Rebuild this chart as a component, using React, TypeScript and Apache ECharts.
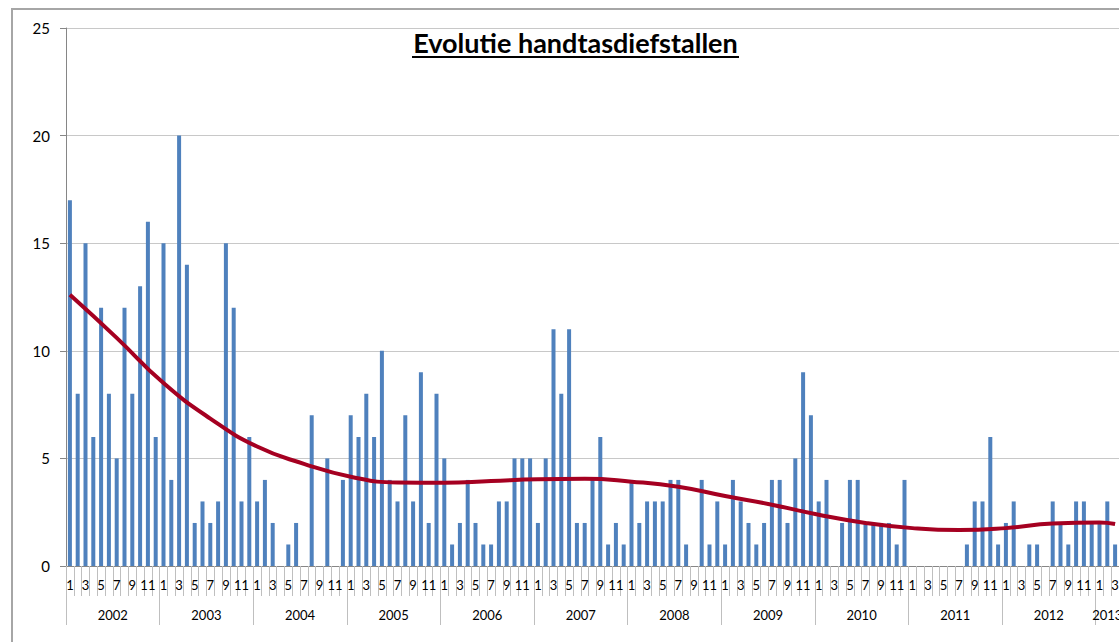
import React, { useEffect, useRef } from "react";
import * as echarts from "echarts";

const years = [2002, 2003, 2004, 2005, 2006, 2007, 2008, 2009, 2010, 2011, 2012, 2013];
const counts2002 = [17, 8, 15, 6, 12, 8, 5, 12, 8, 13, 16, 6];
const counts2003 = [15, 4, 20, 14, 2, 3, 2, 3, 15, 12, 3, 6];
const counts2004 = [3, 4, 2, 0, 1, 2, 0, 7, 0, 5, 0, 4];
const counts2005 = [7, 6, 8, 6, 10, 4, 3, 7, 3, 9, 2, 8];
const counts2006 = [5, 1, 2, 4, 2, 1, 1, 3, 3, 5, 5, 5];
const counts2007 = [2, 5, 11, 8, 11, 2, 2, 4, 6, 1, 2, 1];
const counts2008 = [4, 2, 3, 3, 3, 4, 4, 1, 0, 4, 1, 3];
const counts2009 = [1, 4, 3, 2, 1, 2, 4, 4, 2, 5, 9, 7];
const counts2010 = [3, 4, 0, 2, 4, 4, 2, 2, 2, 2, 1, 4];
const counts2011 = [0, 0, 0, 0, 0, 0, 0, 1, 3, 3, 6, 1];
const counts2012 = [2, 3, 0, 1, 1, 0, 3, 2, 1, 3, 3, 2];
const counts2013 = [2, 3, 1];
const countsByYear = [
  counts2002, counts2003, counts2004, counts2005, counts2006, counts2007,
  counts2008, counts2009, counts2010, counts2011, counts2012, counts2013,
];

// trend line: [month index from Jan 2002, value]
const trendPoints: [number, number][] = [
  [0, 12.6], [6, 10.6], [12, 8.5], [18, 6.85], [24, 5.55], [30, 4.75],
  [36, 4.15], [42, 3.88], [48, 3.87], [54, 3.95], [60, 4.03], [66, 4.05],
  [72, 3.92], [78, 3.68], [84, 3.25], [90, 2.85], [96, 2.38], [102, 2.0],
  [108, 1.76], [114, 1.67], [120, 1.76], [126, 1.97], [132, 2.02], [134, 1.95],
];

const yTicks = { min: 0, max: 25, interval: 5 };
const title = "Evolutie handtasdiefstallen";

export default function App() {
  const ref = useRef<HTMLDivElement>(null);
  useEffect(() => {
    if (!ref.current) return;
    const chart = echarts.init(ref.current, undefined, { renderer: "svg" });

    const categories: string[] = [];
    const monthOf: number[] = [];
    const yearOf: number[] = [];
    const values: number[] = [];
    countsByYear.forEach((arr, yi) => {
      arr.forEach((v, mi) => {
        categories.push(`${years[yi]}-${mi + 1}`);
        monthOf.push(mi + 1);
        yearOf.push(years[yi]);
        values.push(v);
      });
    });
    const yearStart: number[] = [];
    const yearLabelIdx: Record<number, boolean> = {};
    {
      let s = 0;
      countsByYear.forEach((arr) => {
        yearStart.push(s);
        yearLabelIdx[s + Math.floor((arr.length - 1) / 2)] = arr.length % 2 === 0;
        s += arr.length;
      });
    }
    const isYearLabel = (i: number) => i in yearLabelIdx;
    const font = "Lato, 'Open Sans', sans-serif";

    chart.setOption({
      animation: false,
      backgroundColor: "#ffffff",
      grid: {
        left: 66,
        right: 0,
        top: 28,
        bottom: 76,
        containLabel: false,
        outerBoundsMode: "none",
      },
      graphic: [
        {
          type: "rect",
          shape: { x: 12, y: 9, width: 2000, height: 2000 },
          style: { fill: "none", stroke: "#a6a6a6", lineWidth: 2 },
          silent: true,
          z: 0,
        },
        {
          type: "text",
          x: 575.5,
          y: 29,
          style: {
            text: title,
            font: `bold 27px ${font}`,
            fill: "#000",
            textAlign: "center",
            textVerticalAlign: "top",
          },
          z: 10,
        },
        {
          type: "line",
          shape: { x1: 412, y1: 57, x2: 739, y2: 57 },
          style: { stroke: "#000", lineWidth: 2 },
          z: 10,
        },
      ],
      xAxis: [
        {
          type: "category",
          data: categories,
          position: "bottom",
          axisLine: { show: true, lineStyle: { color: "#868686", width: 1 } },
          axisTick: { show: true, interval: 0, length: 30, lineStyle: { color: "#bfbfbf" } },
          axisLabel: {
            interval: 1,
            margin: 12,
            fontSize: 13,
            fontFamily: font,
            color: "#000",
            formatter: (_v: string, i: number) => String(monthOf[i]),
          },
          splitLine: { show: false },
        },
        {
          type: "category",
          data: categories,
          position: "bottom",
          axisLine: { show: false },
          axisTick: {
            show: true,
            interval: (i: number) => yearStart.includes(i),
            length: 59,
            lineStyle: { color: "#bfbfbf" },
          },
          axisLabel: {
            interval: (i: number) => isYearLabel(i),
            margin: 42,
            fontSize: 13,
            fontFamily: font,
            color: "#000",
            formatter: (_v: string, i: number) =>
              yearLabelIdx[i] ? `{p|${yearOf[i]}}` : String(yearOf[i]),
            rich: {
              p: { padding: [0, 0, 0, 7.8], fontSize: 13, fontFamily: font, color: "#000" },
            },
          },
          splitLine: { show: false },
        },
      ],
      yAxis: {
        type: "value",
        min: yTicks.min,
        max: yTicks.max,
        interval: yTicks.interval,
        axisLine: { show: true, lineStyle: { color: "#868686" } },
        axisTick: { show: true, length: 6, lineStyle: { color: "#868686" } },
        axisLabel: { margin: 16, fontSize: 15, fontFamily: font, color: "#000" },
        splitLine: { show: true, lineStyle: { color: "#c8c8c8", width: 1 } },
      },
      series: [
        {
          type: "bar",
          xAxisIndex: 0,
          data: values,
          barWidth: 4,
          itemStyle: { color: "#4f81bd" },
          z: 2,
        },
        {
          type: "line",
          xAxisIndex: 0,
          data: trendPoints,
          smooth: true,
          showSymbol: false,
          lineStyle: { color: "#a50021", width: 4 },
          z: 3,
        },
      ],
    });
    return () => chart.dispose();
  }, []);
  return (
    <div
      ref={ref}
      style={{ position: "fixed", left: 0, top: 0, width: 1119, height: 642 }}
    />
  );
}
